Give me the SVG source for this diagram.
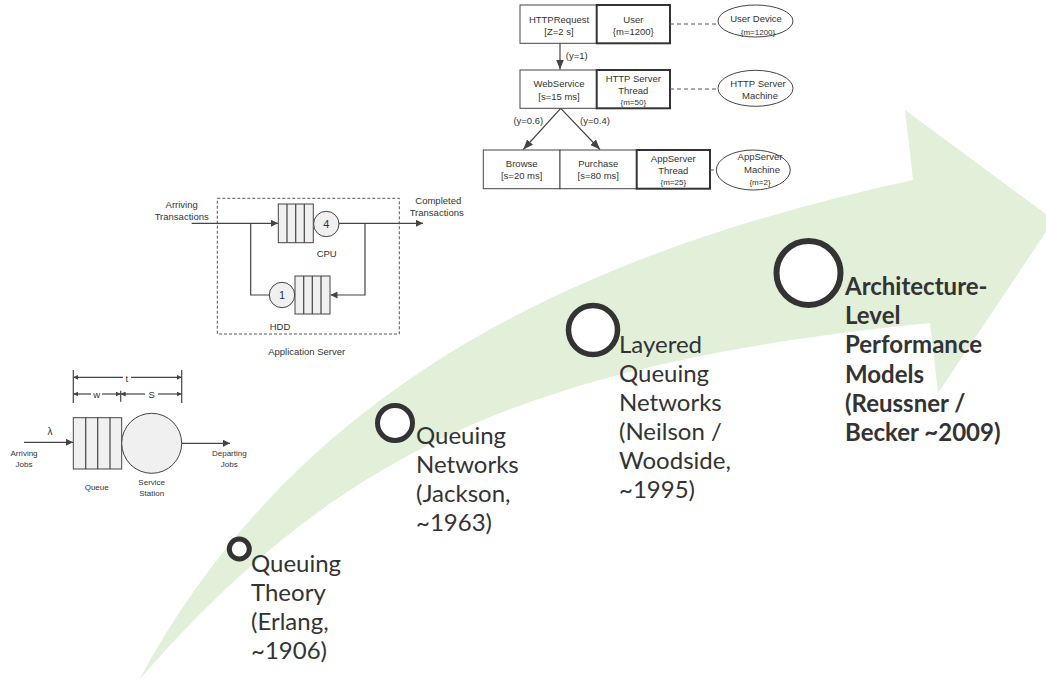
<svg xmlns="http://www.w3.org/2000/svg" width="1046" height="681" viewBox="0 0 1046 681">
<defs>
<style>
.t{font-family:"Liberation Sans",Arial,sans-serif;font-size:9.5px;fill:#333;text-anchor:middle}
.ts{font-family:"Liberation Sans",Arial,sans-serif;font-size:8px;fill:#333;text-anchor:middle}
.big{font-family:Lato,"Open Sans",sans-serif;font-size:24px;fill:#333}
.bold{font-weight:bold}
.box{fill:#fff;stroke:#444;stroke-width:1}
.tbox{fill:#fff;stroke:#333;stroke-width:2}
.ell{fill:#fff;stroke:#444;stroke-width:1}
.ln{fill:none;stroke:#444;stroke-width:1.2}
.dash{fill:none;stroke:#555;stroke-width:1;stroke-dasharray:4,3}
.q{fill:#f0f0f0;stroke:#444;stroke-width:1}
.ms{fill:#fff;stroke:#333}
</style>
<marker id="ah" viewBox="0 0 10 10" refX="10" refY="5" markerWidth="7" markerHeight="7" markerUnits="userSpaceOnUse" orient="auto"><path d="M0,0 L10,5 L0,10 Z" fill="#444"/></marker>
<marker id="ahb" viewBox="0 0 10 10" refX="10" refY="5" markerWidth="10" markerHeight="10" markerUnits="userSpaceOnUse" orient="auto"><path d="M0,1 L10,5 L0,9 Z" fill="#444"/></marker>
<marker id="ahs" viewBox="0 0 10 10" refX="10" refY="5" markerWidth="5" markerHeight="5" markerUnits="userSpaceOnUse" orient="auto-start-reverse"><path d="M0,0 L10,5 L0,10 Z" fill="#444"/></marker>
</defs>
<rect width="1046" height="681" fill="#fff"/>

<g id="timeline-arrow">
<path d="M139,680 C309,365 613,246 913,180 L905,110 L1054,220 L938,393 L930,323 C530,363 339,450 139,680 Z" fill="#e2efd9"/>
</g>

<g id="lqn">
<g id="n-httprequest"><rect class="box" x="520" y="5" width="76.7" height="38.3"/><text class="t" x="559" y="22.5">HTTPRequest</text><text class="t" x="559" y="35">[Z=2 s]</text></g>
<g id="n-user"><rect class="tbox" x="596.7" y="5" width="73.3" height="38.3"/><text class="t" x="633.3" y="22.5">User</text><text class="t" x="633.3" y="35">{m=1200}</text></g>
<g id="n-userdevice"><ellipse class="ell" cx="755.5" cy="21" rx="37.5" ry="16"/><text class="t" x="756" y="21.5">User Device</text><text class="ts" x="758" y="34.5">{m=1200}</text></g>
<g id="n-webservice"><rect class="box" x="520" y="70" width="76.7" height="38.3"/><text class="t" x="559" y="86.5">WebService</text><text class="t" x="559" y="100">[s=15 ms]</text></g>
<g id="n-httpthread"><rect class="tbox" x="596.7" y="70" width="73.3" height="38.3"/><text class="t" x="633.3" y="81.5">HTTP Server</text><text class="t" x="633.3" y="93.5">Thread</text><text class="ts" x="633.3" y="105">{m=50}</text></g>
<g id="n-httpmachine"><ellipse class="ell" cx="755.5" cy="88.3" rx="37.5" ry="18"/><text class="t" x="758" y="86.5">HTTP Server</text><text class="t" x="760" y="99">Machine</text></g>
<g id="n-browse"><rect class="box" x="483.3" y="150" width="76.7" height="38.7"/><text class="t" x="521.7" y="167">Browse</text><text class="t" x="521.7" y="179">[s=20 ms]</text></g>
<g id="n-purchase"><rect class="box" x="560" y="150" width="76.7" height="38.7"/><text class="t" x="598.3" y="167">Purchase</text><text class="t" x="598.3" y="179">[s=80 ms]</text></g>
<g id="n-appthread"><rect class="tbox" x="636.7" y="150" width="73.3" height="38.7"/><text class="t" x="673.3" y="161.5">AppServer</text><text class="t" x="673.3" y="173.5">Thread</text><text class="ts" x="673.3" y="185">{m=25}</text></g>
<g id="n-appmachine"><ellipse class="ell" cx="753.3" cy="170" rx="37" ry="20"/><text class="t" x="760" y="160">AppServer</text><text class="t" x="762" y="172.5">Machine</text><text class="ts" x="760" y="185">{m=2}</text></g>
</g>

<g id="lqn-connectors">
<line class="ln" x1="560" y1="43.3" x2="560" y2="69.5" marker-end="url(#ahb)"/>
<line class="ln" x1="560.7" y1="108.3" x2="523.3" y2="149.5" marker-end="url(#ahb)"/>
<line class="ln" x1="560.7" y1="108.3" x2="600" y2="149.5" marker-end="url(#ahb)"/>
<line class="dash" x1="670" y1="24" x2="718" y2="24"/>
<line class="dash" x1="670" y1="89" x2="718" y2="89"/>
<line class="dash" x1="710" y1="170" x2="716.5" y2="170"/>
<text class="t" x="576.7" y="58.5">(y=1)</text>
<text class="t" x="528.3" y="123.5">(y=0.6)</text>
<text class="t" x="595" y="123.5">(y=0.4)</text>
</g>

<g id="appserver">
<rect x="217.3" y="198.3" width="182" height="135.7" fill="none" stroke="#555" stroke-width="1" stroke-dasharray="3,2"/>
<g id="cpu">
<rect class="q" x="278.3" y="204" width="35" height="38.7"/>
<line class="ln" x1="287" y1="204" x2="287" y2="242.7"/><line class="ln" x1="295.7" y1="204" x2="295.7" y2="242.7"/><line class="ln" x1="304.3" y1="204" x2="304.3" y2="242.7"/>
<circle class="q" cx="326.3" cy="224" r="12.7"/>
<text class="t" x="326.3" y="228" style="font-size:11px">4</text>
<text class="t" x="326.7" y="257">CPU</text>
</g>
<g id="hdd">
<rect class="q" x="295" y="276" width="35" height="38"/>
<line class="ln" x1="303.7" y1="276" x2="303.7" y2="314"/><line class="ln" x1="312.3" y1="276" x2="312.3" y2="314"/><line class="ln" x1="321" y1="276" x2="321" y2="314"/>
<circle class="q" cx="282" cy="295" r="12.7"/>
<text class="t" x="282" y="299" style="font-size:11px">1</text>
<text class="t" x="280" y="329.5">HDD</text>
</g>
<text class="t" x="181.7" y="207.5">Arriving</text>
<text class="t" x="181.7" y="220">Transactions</text>
<text class="t" x="438.3" y="203.5">Completed</text>
<text class="t" x="436.7" y="216">Transactions</text>
<text class="t" x="306.7" y="355">Application Server</text>
</g>

<g id="appserver-connectors">
<line class="ln" x1="191.7" y1="223.3" x2="278" y2="223.3" marker-end="url(#ah)"/>
<line class="ln" x1="339" y1="223.3" x2="423" y2="223.3" marker-end="url(#ah)"/>
<polyline class="ln" points="365,223.3 365,295 330.5,295" marker-end="url(#ah)"/>
<polyline class="ln" points="269.3,295 250.7,295 250.7,223.3"/>
</g>

<g id="single-queue">
<rect class="q" x="73.3" y="417.7" width="48.4" height="51.3"/>
<line class="ln" x1="85.7" y1="417.7" x2="85.7" y2="469"/><line class="ln" x1="97.7" y1="417.7" x2="97.7" y2="469"/><line class="ln" x1="110" y1="417.7" x2="110" y2="469"/>
<circle class="q" cx="151.7" cy="443.3" r="30"/>
<line class="ln" x1="24" y1="442.3" x2="73" y2="442.3" marker-end="url(#ah)"/>
<line class="ln" x1="181.7" y1="443.3" x2="230" y2="443.3" marker-end="url(#ah)"/>
<text class="t" x="50" y="435" style="font-size:10px">λ</text>
<text class="ts" x="24" y="456">Arriving</text>
<text class="ts" x="24" y="467">Jobs</text>
<text class="ts" x="229.3" y="455.5">Departing</text>
<text class="ts" x="229.3" y="467">Jobs</text>
<text class="ts" x="96.7" y="489.5">Queue</text>
<text class="ts" x="151.7" y="484.5">Service</text>
<text class="ts" x="151.7" y="496">Station</text>
<g id="dims">
<line class="ln" stroke-width="1" x1="73.3" y1="370" x2="73.3" y2="403"/>
<line class="ln" stroke-width="1" x1="181.7" y1="370" x2="181.7" y2="403"/>
<line class="ln" stroke-width="1" x1="120.7" y1="390.7" x2="120.7" y2="401.7"/>
<line class="ln" stroke-width="1" x1="73.3" y1="377.3" x2="123" y2="377.3" marker-start="url(#ahs)"/>
<line class="ln" stroke-width="1" x1="131" y1="377.3" x2="181.7" y2="377.3" marker-end="url(#ahs)"/>
<line class="ln" stroke-width="1" x1="73.3" y1="394" x2="91" y2="394" marker-start="url(#ahs)"/>
<line class="ln" stroke-width="1" x1="102" y1="394" x2="120.7" y2="394" marker-end="url(#ahs)"/>
<line class="ln" stroke-width="1" x1="120.7" y1="394" x2="145" y2="394" marker-start="url(#ahs)"/>
<line class="ln" stroke-width="1" x1="158" y1="394" x2="181.7" y2="394" marker-end="url(#ahs)"/>
<text class="t" x="126.7" y="381.5">t</text>
<text class="t" x="96.7" y="398">w</text>
<text class="t" x="151.7" y="398">S</text>
</g>
</g>

<g id="m1"><circle class="ms" cx="239.3" cy="549" r="10" stroke-width="5"/>
<text class="big" x="251" y="572">Queuing</text><text class="big" x="251" y="601">Theory</text><text class="big" x="251" y="630">(Erlang,</text><text class="big" x="251" y="659">~1906)</text></g>
<g id="m2"><circle class="ms" cx="395" cy="423" r="17.5" stroke-width="5"/>
<text class="big" x="416" y="444">Queuing</text><text class="big" x="416" y="473">Networks</text><text class="big" x="416" y="502">(Jackson,</text><text class="big" x="416" y="531">~1963)</text></g>
<g id="m3"><circle class="ms" cx="593" cy="330" r="24.5" stroke-width="5.5"/>
<text class="big" x="619" y="353">Layered</text><text class="big" x="619" y="382">Queuing</text><text class="big" x="619" y="411">Networks</text><text class="big" x="619" y="440">(Neilson /</text><text class="big" x="619" y="469">Woodside,</text><text class="big" x="619" y="498">~1995)</text></g>
<g id="m4"><circle class="ms" cx="808.5" cy="273" r="32" stroke-width="6"/>
<text class="big bold" x="845" y="295">Architecture-</text><text class="big bold" x="845" y="324">Level</text><text class="big bold" x="845" y="353">Performance</text><text class="big bold" x="845" y="383">Models</text><text class="big bold" x="845" y="412">(Reussner /</text><text class="big bold" x="845" y="441">Becker ~2009)</text></g>
</svg>
